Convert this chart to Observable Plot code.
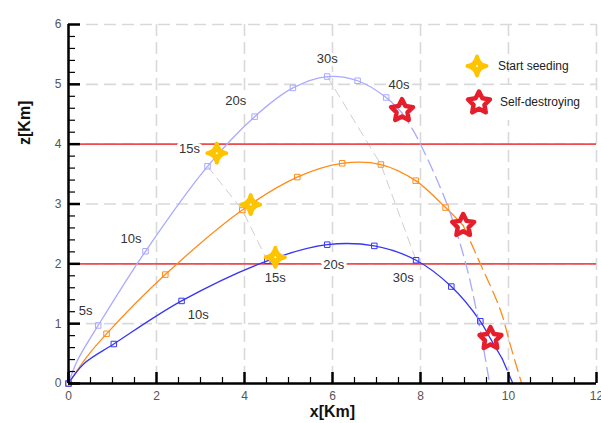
<!DOCTYPE html>
<html>
<head>
<meta charset="utf-8">
<script src="https://cdn.jsdelivr.net/npm/d3@7"></script>
<script src="https://cdn.jsdelivr.net/npm/@observablehq/plot@0.6"></script>
<style>
  body { margin: 0; background: #fff; }
  #wrap { position: relative; width: 601px; height: 423px; font-family: "Liberation Sans", Arial, sans-serif; }
  .lg { position: absolute; font-size: 12px; color: #222; white-space: nowrap; }
</style>
</head>
<body>
<div id="wrap"></div>
<script>
// ---- data ----
const times = [0, 5, 10, 15, 20, 25, 30, 35, 40];           // marker times (s)
const seriesNames = ["high", "mid", "low"];
const seriesColors = ["#a9a9ff", "#ff8c1a", "#3636f5"];

// markers every 5 s
const highX = [0, 0.675, 1.75, 3.16, 4.23, 5.10, 5.88, 6.57, 7.22];
const highZ = [0, 0.97, 2.21, 3.63, 4.46, 4.94, 5.13, 5.06, 4.78];
const midX  = [0, 0.864, 2.20, 3.95, 5.20, 6.22, 7.10, 7.89, 8.57];
const midZ  = [0, 0.83, 1.82, 2.90, 3.45, 3.68, 3.66, 3.39, 2.94];
const lowX  = [0, 1.03, 2.57, 4.52, 5.88, 6.95, 7.90, 8.70, 9.36];
const lowZ  = [0, 0.66, 1.38, 2.05, 2.32, 2.30, 2.06, 1.62, 1.04];

// solid trajectory (until self-destroy)
const highSolidX = [0, 0.2, 0.675, 1.75, 3.16, 4.23, 5.10, 5.88, 6.57, 7.22, 7.58];
const highSolidZ = [0, 0.38, 0.97, 2.21, 3.63, 4.46, 4.94, 5.13, 5.06, 4.78, 4.52];
const midSolidX  = [0, 0.4, 0.864, 2.20, 3.95, 5.20, 6.22, 7.10, 7.89, 8.57, 8.97];
const midSolidZ  = [0, 0.43, 0.83, 1.82, 2.90, 3.45, 3.68, 3.66, 3.39, 2.94, 2.64];
const lowSolidX  = [0, 0.35, 1.03, 2.57, 4.52, 5.88, 6.95, 7.90, 8.70, 9.36, 9.59, 9.86];
const lowSolidZ  = [0, 0.33, 0.66, 1.38, 2.05, 2.32, 2.30, 2.06, 1.62, 1.04, 0.75, 0.41];

// dashed fall after self-destroy
const highDashX = [7.58, 7.77, 8.0, 8.6, 9.03, 9.33, 9.57];
const highDashZ = [4.52, 4.31, 4.0, 3.0, 2.0, 1.0, 0];
const midDashX  = [8.97, 9.36, 9.82, 10.05, 10.30];
const midDashZ  = [2.64, 2.0, 1.22, 0.62, 0];
const lowDashX  = [9.86, 10.10];
const lowDashZ  = [0.41, 0];

// isochrone times drawn (gray)
const isoTimes = [15, 30];

// time labels
const labelText = ["5s", "10s", "15s", "20s", "30s", "40s", "10s", "15s", "20s", "30s"];
const labelX    = [0.39, 1.42, 2.75, 3.80, 5.88, 7.51, 2.95, 4.70, 6.03, 7.61];
const labelZ    = [1.22, 2.42, 3.92, 4.72, 5.43, 5.00, 1.14, 1.77, 1.98, 1.77];

// events
const seedX = [3.37, 4.14, 4.70];
const seedZ = [3.85, 2.99, 2.11];
const destroyX = [7.58, 8.97, 9.59];
const destroyZ = [4.56, 2.64, 0.75];

// horizontal reference levels
const levelZ = [2, 4];

// axes ticks
const xTicks = [0, 2, 4, 6, 8, 10, 12];
const yTicks = [0, 1, 2, 3, 4, 5, 6];
const xMinor = d3.range(0, 12.01, 0.5).filter(v => v % 2 !== 0);
const yMinor = d3.range(0, 6.01, 0.2).map(v => +v.toFixed(1)).filter(v => Math.abs(v - Math.round(v)) > 1e-6);

const legendItems = ["Start seeding", "Self-destroying"];

// ---- build tables ----
const mk = [[highX, highZ], [midX, midZ], [lowX, lowZ]];
const solid = [[highSolidX, highSolidZ], [midSolidX, midSolidZ], [lowSolidX, lowSolidZ]];
const dashed = [[highDashX, highDashZ], [midDashX, midDashZ], [lowDashX, lowDashZ]];
const rows = (arr) => arr.flatMap(([xs, zs], s) => xs.map((x, i) => ({series: seriesNames[s], x, z: zs[i], t: times[i]})));
const markerRows = rows(mk);
const solidRows = rows(solid);
const dashRows = rows(dashed);
const isoRows = isoTimes.flatMap(t => mk.map(([xs, zs]) => ({t, x: xs[times.indexOf(t)], z: zs[times.indexOf(t)]})));
const labelRows = labelText.map((text, i) => ({text, x: labelX[i], z: labelZ[i]}));
const seedRows = seedX.map((x, i) => ({x, z: seedZ[i]}));
const destroyRows = destroyX.map((x, i) => ({x, z: destroyZ[i]}));

// ---- custom symbols ----
const star4 = {draw(ctx, size) {
  const r = Math.sqrt(size / Math.PI), k = 0.16 * r;
  ctx.moveTo(0, -r);
  ctx.quadraticCurveTo(k, -k, r, 0);
  ctx.quadraticCurveTo(k, k, 0, r);
  ctx.quadraticCurveTo(-k, k, -r, 0);
  ctx.quadraticCurveTo(-k, -k, 0, -r);
  ctx.closePath();
}};
const star5 = {draw(ctx, size) {
  const r = Math.sqrt(size / Math.PI), ri = 0.5 * r;
  for (let i = 0; i < 10; i++) {
    const a = -Math.PI / 2 + i * Math.PI / 5, rr = i % 2 ? ri : r;
    const px = rr * Math.cos(a), py = rr * Math.sin(a);
    if (i) ctx.lineTo(px, py); else ctx.moveTo(px, py);
  }
  ctx.closePath();
}};

const YELLOW = "#ffc400", RED = "#e51e2b";
const SEED_R = 9.5, SEED_SW = 4, DEST_R = 11.5, DEST_SW = 4.5;
const W = 601, H = 423, ML = 68, MR = 5, MT = 24, MB = 40;
const FW = W - ML - MR, FH = H - MT - MB;

const chart = Plot.plot({
  width: W, height: H,
  marginLeft: ML, marginRight: MR, marginTop: MT, marginBottom: MB,
  x: {domain: [0, 12]},
  y: {domain: [0, 6]},
  color: {domain: seriesNames, range: seriesColors},
  style: {fontFamily: "'Liberation Sans', Arial, sans-serif", fontSize: "12px", background: "white", overflow: "visible"},
  marks: [
    Plot.gridX(xTicks, {stroke: "#d9d9d9", strokeOpacity: 1, strokeWidth: 1.6, strokeDasharray: "12,6"}),
    Plot.gridY(yTicks, {stroke: "#d9d9d9", strokeOpacity: 1, strokeWidth: 1.6, strokeDasharray: "12,6"}),
    Plot.line(isoRows, {x: "x", y: "z", z: "t", stroke: "#cfcfcf", strokeWidth: 1, strokeDasharray: "9,6"}),
    Plot.ruleY(levelZ, {stroke: "#ef4d4d", strokeWidth: 1.6}),
    Plot.line(solidRows, {x: "x", y: "z", z: "series", stroke: "series", strokeWidth: 1.3, curve: "catmull-rom"}),
    Plot.line(dashRows, {x: "x", y: "z", z: "series", stroke: "series", strokeWidth: 1.3, strokeDasharray: "12,6", curve: "catmull-rom"}),
    Plot.dot(markerRows, {x: "x", y: "z", stroke: "series", symbol: "square", r: 3.1, strokeWidth: 1, fill: "none"}),
    Plot.text(labelRows, {x: "x", y: "z", text: "text", fontSize: 13, fill: "#333", stroke: "white", strokeWidth: 6}),
    Plot.dot(seedRows, {x: "x", y: "z", symbol: star4, r: SEED_R, fill: YELLOW, stroke: YELLOW, strokeWidth: SEED_SW, strokeLinejoin: "round"}),
    Plot.dot(seedRows, {x: "x", y: "z", r: 1, fill: "white"}),
    Plot.dot(destroyRows, {x: "x", y: "z", symbol: star5, r: DEST_R, fill: "none", stroke: RED, strokeWidth: DEST_SW, strokeLinejoin: "round"}),
    // axes lines and inward ticks
    Plot.ruleY([0], {stroke: "black", strokeWidth: 2.5}),
    Plot.ruleX([0], {stroke: "black", strokeWidth: 2.5}),
    Plot.tickX(xTicks, {x: d => d, insetTop: FH - 11, stroke: "black", strokeWidth: 2.5}),
    Plot.tickX(xMinor, {x: d => d, insetTop: FH - 6, stroke: "black", strokeWidth: 1.2}),
    Plot.tickY(yTicks, {y: d => d, insetRight: FW - 12, stroke: "black", strokeWidth: 2.5}),
    Plot.tickY(yMinor, {y: d => d, insetRight: FW - 7, stroke: "black", strokeWidth: 1.2}),
    Plot.axisX(xTicks, {tickSize: 0, tickPadding: 8, fill: "#555", fontSize: 12, label: null, tickFormat: d => String(d)}),
    Plot.axisY(yTicks, {tickSize: 0, tickPadding: 7, fill: "#555", fontSize: 12, label: null, tickFormat: d => String(d)}),
    Plot.text(["x[Km]"], {text: d => d, frameAnchor: "bottom", dy: 33, fontWeight: "bold", fontSize: 16, fill: "#111"}),
    Plot.text(["z[Km]"], {text: d => d, frameAnchor: "left", dx: -44, dy: -59, rotate: -90, fontWeight: "bold", fontSize: 16, fill: "#111"})
  ]
});
const wrap = document.getElementById("wrap");
wrap.appendChild(chart);

// ---- legend (overlay) ----
function legendSymbol(sym, r, fill, stroke, sw, left, top) {
  const svg = d3.create("svg").attr("width", 36).attr("height", 36)
    .style("position", "absolute").style("left", (left - 18) + "px").style("top", (top - 18) + "px");
  svg.append("path").attr("transform", "translate(18,18)")
    .attr("d", d3.symbol(sym, r * r * Math.PI)())
    .attr("fill", fill).attr("stroke", stroke).attr("stroke-width", sw).attr("stroke-linejoin", "round");
  if (sym === star4) svg.append("circle").attr("cx", 18).attr("cy", 18).attr("r", 1).attr("fill", "white");
  wrap.appendChild(svg.node());
}
legendSymbol(star4, SEED_R, YELLOW, YELLOW, SEED_SW, 477, 66);
legendSymbol(star5, DEST_R, "none", RED, DEST_SW, 479, 103);
const t1 = document.createElement("div");
t1.className = "lg"; t1.textContent = legendItems[0];
t1.style.left = "498px"; t1.style.top = "59px";
wrap.appendChild(t1);
const t2 = document.createElement("div");
t2.className = "lg"; t2.textContent = legendItems[1];
t2.style.left = "497px"; t2.style.top = "85px"; t2.style.height = "35px"; t2.style.lineHeight = "35px";
t2.style.background = "white"; t2.style.padding = "0 3px";
wrap.appendChild(t2);
</script>
</body>
</html>
